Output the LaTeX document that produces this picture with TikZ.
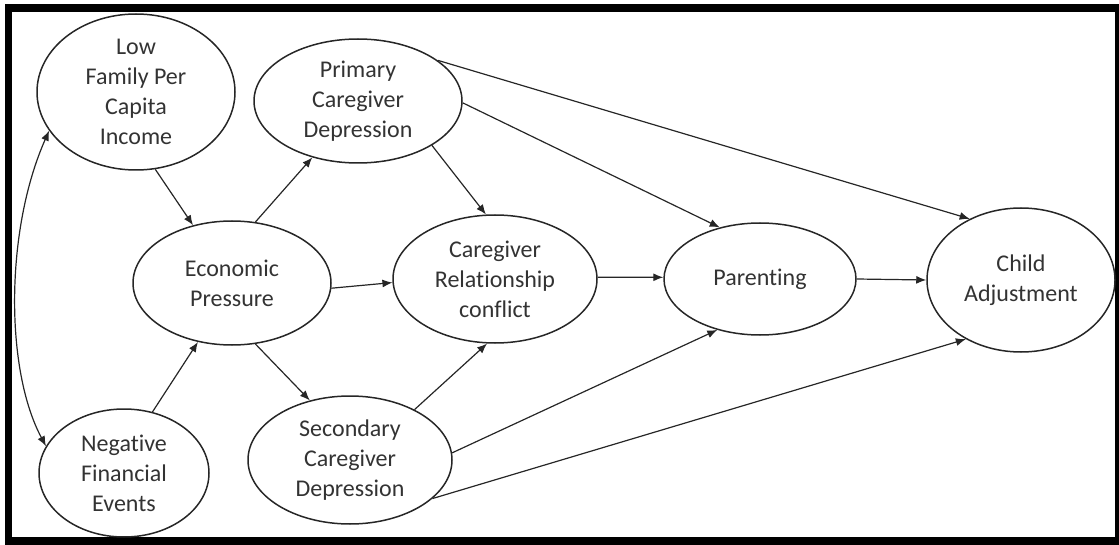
\documentclass[tikz,border=0pt]{standalone}
\usepackage{fontspec}
\setmainfont{Carlito}[Ligatures=NoCommon]
\usetikzlibrary{shapes.geometric,arrows.meta}
\definecolor{fmline}{HTML}{262626}
\definecolor{fmtext}{HTML}{333333}

\begin{document}
\begin{tikzpicture}[x=0.5pt, y=-0.5pt,
    every node/.style={font=\fontsize{12}{15}\selectfont, text=fmtext},
    var/.style={ellipse, draw=fmline, line width=0.75pt, inner sep=0pt, align=center},
    link/.style={draw=fmline, line width=0.6pt, -{Latex[length=5pt,width=4pt]}}]
    \useasboundingbox (0,0) rectangle (1119,545);
    \draw[line width=3.75pt] (8.5,8) rectangle (1118.75,540.75);

    \node[var, minimum width=99pt, minimum height=78pt] (inc) at (136,92) {Low\\Family Per\\Capita\\Income};
    \node[var, minimum width=99pt, minimum height=62pt] (pres) at (232,283) {Economic\\Pressure};
    \node[var, minimum width=85pt, minimum height=64pt] (neg) at (124,473) {Negative\\Financial\\Events};
    \node[var, minimum width=104pt, minimum height=62pt] (pdep) at (358,101) {Primary\\Caregiver\\Depression};
    \node[var, minimum width=102pt, minimum height=64pt] (sdep) at (350,460) {Secondary\\Caregiver\\Depression};
    \node[var, minimum width=102pt, minimum height=64pt] (conf) at (495,279) {Caregiver\\Relationship\\conflict};
    \node[var, minimum width=96pt, minimum height=56pt] (par) at (760,279) {Parenting};
    \node[var, minimum width=94pt, minimum height=72pt] (child) at (1021,280) {Child\\Adjustment};

    \draw[link] (inc.-76) -- (pres.124);
    \draw[link] (neg.65) -- (pres.-120);
    \draw[link] (pres.69) -- (pdep.-129);
    \draw[link] (pres.-69) -- (sdep.124);
    \draw[link] (pres.-3) -- (conf.182);
    \draw[link] (pdep.-31) -- (conf.98);
    \draw[link] (sdep.38) -- (conf.-97);
    \draw[link] (conf.1) -- (par.179);
    \draw[link] (pdep.-1) -- (par.128);
    \draw[link] (sdep.4.5) -- (par.-130);
    \draw[link] (par.0) -- (child.180);
    \draw[link] (pdep.27) -- (child.130);
    \draw[link] (sdep.-25) -- (child.-133);
    \draw[link, {Latex[length=5pt,width=4pt]}-{Latex[length=5pt,width=4pt]}] (inc.-156) .. controls (5,230) and (5,370) .. (neg.161);
\end{tikzpicture}
\end{document}
